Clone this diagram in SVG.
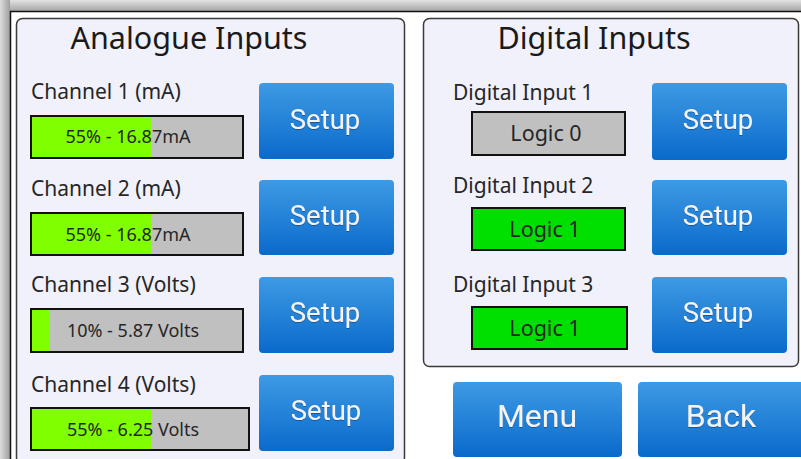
<svg xmlns="http://www.w3.org/2000/svg" width="801" height="459" viewBox="0 0 801 459">
<defs>
<linearGradient id="btn" x1="0" y1="0" x2="0" y2="1">
<stop offset="0" stop-color="#3e9ae4"/>
<stop offset="1" stop-color="#0a6acb"/>
</linearGradient>
<linearGradient id="shTop" x1="0" y1="0" x2="0" y2="1">
<stop offset="0" stop-color="#e2e2e2"/>
<stop offset="1" stop-color="#a6a6a6"/>
</linearGradient>
<linearGradient id="shLeft" x1="0" y1="0" x2="1" y2="0">
<stop offset="0" stop-color="#dedede"/>
<stop offset="1" stop-color="#9e9e9e"/>
</linearGradient>
<filter id="ts" x="-10%" y="-10%" width="120%" height="130%">
<feDropShadow dx="0" dy="1" stdDeviation="0.6" flood-color="#0a3c78" flood-opacity="0.6"/>
</filter>
</defs>
<style>
text{font-family:"Noto Sans","Open Sans","Liberation Sans",sans-serif}
.panel{fill:#f1f1fc;stroke:#3a3a3a;stroke-width:1.5}
.title{font-size:30.5px;fill:#1a1a1a;text-anchor:middle}
.lbl{font-size:21px;fill:#262626}
.bar{stroke:#111;stroke-width:2}
.bartxt{font-size:18px;fill:#262626;text-anchor:middle}
.logic{font-size:21.5px}
.btn{fill:url(#btn)}
.btntxt{font-family:Roboto,"Noto Sans",sans-serif;font-size:27.5px;fill:#f4f4f4;text-anchor:middle}
.big{font-size:32px}
</style>
<rect x="0" y="0" width="801" height="459" fill="#ffffff"/>
<rect x="0" y="0" width="801" height="11" fill="url(#shTop)"/>
<rect x="0" y="0" width="10" height="459" fill="url(#shLeft)"/>
<path d="M10.5 459 V11.5 H801" fill="none" stroke="#111" stroke-width="1.5"/>

<g id="analogue-panel">
<rect class="panel" x="16.5" y="18.5" width="388" height="445" rx="6"/>
<text class="title" x="189" y="49">Analogue Inputs</text>
</g>

<g id="channel1">
<text class="lbl" x="31" y="99">Channel 1 (mA)</text>
<rect x="31" y="116" width="212" height="42" fill="#c0c0c0" class="bar"/>
<rect x="32" y="117" width="119" height="40" fill="#80ff00"/>
<rect x="31" y="116" width="212" height="42" fill="none" class="bar"/>
<text class="bartxt" x="128" y="143">55% - 16.87mA</text>
</g>
<g id="setup-a1">
<rect class="btn" x="259" y="83" width="135" height="76" rx="4"/>
<text class="btntxt" x="325" y="129" filter="url(#ts)">Setup</text>
</g>

<g id="channel2">
<text class="lbl" x="31" y="196">Channel 2 (mA)</text>
<rect x="31" y="213" width="212" height="42" fill="#c0c0c0" class="bar"/>
<rect x="32" y="214" width="119" height="40" fill="#80ff00"/>
<rect x="31" y="213" width="212" height="42" fill="none" class="bar"/>
<text class="bartxt" x="128" y="241">55% - 16.87mA</text>
</g>
<g id="setup-a2">
<rect class="btn" x="259" y="180" width="135" height="75" rx="4"/>
<text class="btntxt" x="325" y="225" filter="url(#ts)">Setup</text>
</g>

<g id="channel3">
<text class="lbl" x="31" y="292">Channel 3 (Volts)</text>
<rect x="31" y="309" width="212" height="43" fill="#c0c0c0" class="bar"/>
<rect x="32" y="310" width="18" height="41" fill="#80ff00"/>
<rect x="31" y="309" width="212" height="43" fill="none" class="bar"/>
<text class="bartxt" x="133" y="337">10% - 5.87 Volts</text>
</g>
<g id="setup-a3">
<rect class="btn" x="259" y="277" width="135" height="76" rx="4"/>
<text class="btntxt" x="325" y="322" filter="url(#ts)">Setup</text>
</g>

<g id="channel4">
<text class="lbl" x="31" y="392">Channel 4 (Volts)</text>
<rect x="31" y="408" width="218" height="42" fill="#c0c0c0" class="bar"/>
<rect x="32" y="409" width="119" height="40" fill="#80ff00"/>
<rect x="31" y="408" width="218" height="42" fill="none" class="bar"/>
<text class="bartxt" x="133" y="436">55% - 6.25 Volts</text>
</g>
<g id="setup-a4">
<rect class="btn" x="259" y="375" width="135" height="76" rx="4"/>
<text class="btntxt" x="326" y="420" filter="url(#ts)">Setup</text>
</g>

<g id="digital-panel">
<rect class="panel" x="423.5" y="18.5" width="375" height="348" rx="6"/>
<text class="title" x="594" y="49">Digital Inputs</text>
</g>

<g id="digital1">
<text class="lbl" x="453" y="100">Digital Input 1</text>
<rect x="472" y="112" width="153" height="43" fill="#c0c0c0" class="bar"/>
<text class="bartxt logic" x="546" y="141">Logic 0</text>
</g>
<g id="setup-d1">
<rect class="btn" x="652" y="83" width="135" height="77" rx="4"/>
<text class="btntxt" x="718" y="129" filter="url(#ts)">Setup</text>
</g>

<g id="digital2">
<text class="lbl" x="453" y="193">Digital Input 2</text>
<rect x="472" y="208" width="153" height="42" fill="#00e000" class="bar"/>
<text class="bartxt logic" x="545" y="237">Logic 1</text>
</g>
<g id="setup-d2">
<rect class="btn" x="652" y="180" width="135" height="75" rx="4"/>
<text class="btntxt" x="718" y="225" filter="url(#ts)">Setup</text>
</g>

<g id="digital3">
<text class="lbl" x="453" y="292">Digital Input 3</text>
<rect x="472" y="307" width="155" height="42" fill="#00e000" class="bar"/>
<text class="bartxt logic" x="545" y="336">Logic 1</text>
</g>
<g id="setup-d3">
<rect class="btn" x="652" y="277" width="135" height="76" rx="4"/>
<text class="btntxt" x="718" y="322" filter="url(#ts)">Setup</text>
</g>

<g id="menu">
<rect class="btn" x="453" y="382" width="169" height="75" rx="4"/>
<text class="btntxt big" x="537" y="427" filter="url(#ts)">Menu</text>
</g>
<g id="back">
<rect class="btn" x="638" y="382" width="166" height="75" rx="4"/>
<text class="btntxt big" x="721" y="427" filter="url(#ts)">Back</text>
</g>
</svg>
